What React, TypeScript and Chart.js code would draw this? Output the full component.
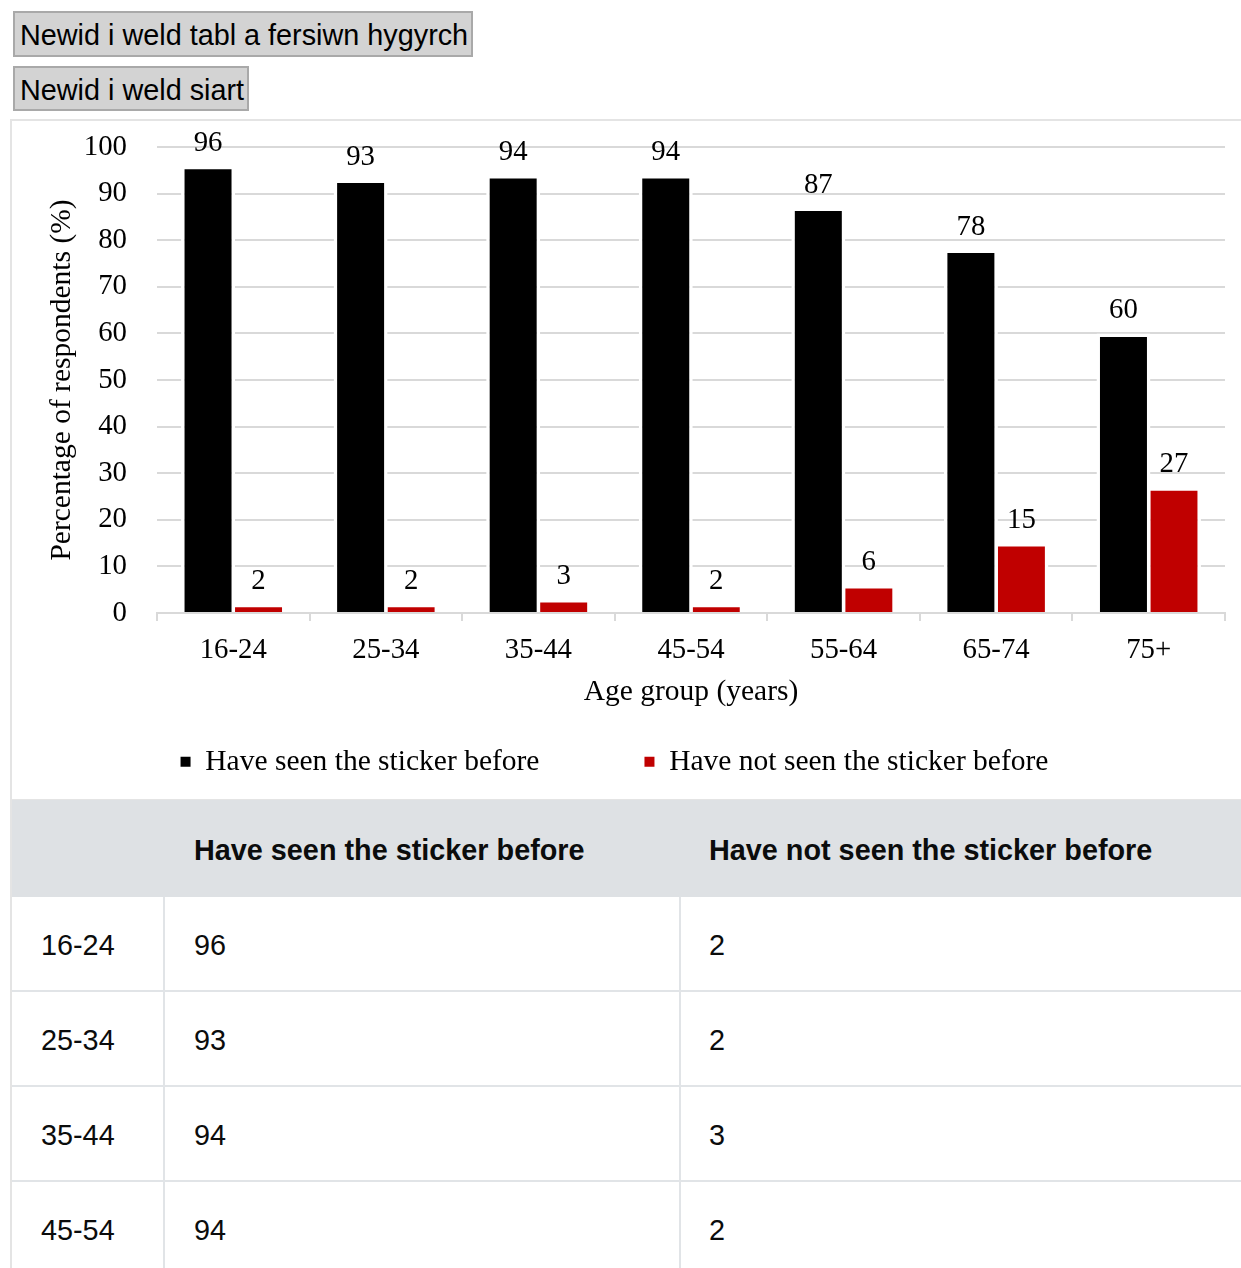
import React, { useEffect, useRef } from "react";
import { Chart, registerables } from "chart.js";

Chart.register(...registerables);

// ---------- data ----------
const categories = ["16-24", "25-34", "35-44", "45-54", "55-64", "65-74", "75+"];
const seenValues = [96, 93, 94, 94, 87, 78, 60];
const notSeenValues = [2, 2, 3, 2, 6, 15, 27];
const seriesLabels = ["Have seen the sticker before", "Have not seen the sticker before"];
const seriesColors = ["#000000", "#c00000"];
const yMin = 0;
const yMax = 100;
const yStep = 10;
const xAxisTitle = "Age group (years)";
const yAxisTitle = "Percentage of respondents (%)";
const buttonLabels = ["Newid i weld tabl a fersiwn hygyrch", "Newid i weld siart"];

const SERIF = '"Liberation Serif", "Times New Roman", Times, serif';
const SANS = '"Liberation Sans", Arial, Helvetica, sans-serif';

const valueLabelPlugin = {
  id: "valueLabels",
  afterDatasetsDraw(chart: any) {
    const { ctx } = chart;
    ctx.save();
    ctx.font = `28.8px ${SERIF}`;
    ctx.fillStyle = "#000";
    ctx.textAlign = "center";
    ctx.textBaseline = "alphabetic";
    chart.data.datasets.forEach((ds: any, di: number) => {
      const meta = chart.getDatasetMeta(di);
      meta.data.forEach((el: any, i: number) => {
        const { x, y } = el.getProps(["x", "y"], true);
        ctx.fillText(String(ds.data[i]), x, y - 15);
      });
    });
    ctx.restore();
  },
};

function BarChart() {
  const ref = useRef<HTMLCanvasElement>(null);
  useEffect(() => {
    const chart = new Chart(ref.current as HTMLCanvasElement, {
      type: "bar",
      data: {
        labels: categories,
        datasets: [
          {
            label: seriesLabels[0],
            data: seenValues,
            backgroundColor: seriesColors[0],
            borderColor: "#ffffff",
            borderWidth: 3.5,
            borderSkipped: "start",
            categoryPercentage: 0.662,
            barPercentage: 1.069,
          },
          {
            label: seriesLabels[1],
            data: notSeenValues,
            backgroundColor: seriesColors[1],
            borderColor: "#ffffff",
            borderWidth: 3.5,
            borderSkipped: "start",
            categoryPercentage: 0.662,
            barPercentage: 1.069,
          },
        ],
      },
      options: {
        animation: false,
        responsive: false,
        maintainAspectRatio: false,
        devicePixelRatio: 1,
        layout: { padding: { top: 26, right: 2, bottom: 12.5, left: 0 } },
        plugins: {
          legend: {
            position: "bottom",
            title: { display: true, text: "", font: { size: 10 }, padding: { top: -38, bottom: 0 } },
            labels: {
              boxWidth: 10,
              boxHeight: 10,
              padding: 105,
              color: "#000",
              font: { family: SERIF, size: 29.5 },
              generateLabels: (c: any) =>
                (Chart.defaults.plugins.legend.labels as any)
                  .generateLabels(c)
                  .map((it: any) => ({ ...it, lineWidth: 0, strokeStyle: it.fillStyle })),
            },
          },
          tooltip: { enabled: false },
        },
        scales: {
          x: {
            offset: true,
            grid: {
              display: true,
              drawOnChartArea: false,
              drawTicks: true,
              tickLength: 8,
              color: "#d9d9d9",
              lineWidth: 2,
              offset: true,
            },
            border: { display: true, color: "#d9d9d9", width: 2 },
            ticks: {
              color: "#000",
              font: { family: SERIF, size: 28.8 },
              padding: 12,
              maxRotation: 0,
              autoSkip: false,
            },
            title: {
              display: true,
              text: xAxisTitle,
              color: "#000",
              font: { family: SERIF, size: 29.5 },
              padding: { top: 0, bottom: -41.7 },
            },
            afterFit: (scale: any) => {
              scale.height = 55;
            },
          },
          y: {
            min: yMin,
            max: yMax,
            ticks: {
              stepSize: yStep,
              color: "#000",
              font: { family: SERIF, size: 28.8 },
              padding: 0,
            },
            grid: {
              color: "#d9d9d9",
              lineWidth: 2,
              drawTicks: true,
              tickLength: 30,
              tickColor: "rgba(0,0,0,0)",
            },
            border: { display: false },
            title: {
              display: true,
              text: yAxisTitle,
              color: "#000",
              font: { family: SERIF, size: 29.5 },
              padding: { top: 40.3, bottom: 0 },
            },
            afterFit: (scale: any) => {
              scale.width = 153;
            },
          },
        },
      } as any,
      plugins: [valueLabelPlugin],
    });
    return () => chart.destroy();
  }, []);
  return (
    <canvas
      ref={ref}
      width={1223}
      height={678}
      style={{ position: "absolute", left: 4, top: 121, width: 1223, height: 678 }}
    />
  );
}

const btnStyle = (left: number, top: number, width: number, height: number): React.CSSProperties => ({
  position: "absolute",
  left,
  top,
  width,
  height,
  boxSizing: "border-box",
  background: "#d3d3d3",
  border: "2px solid #a9a9a9",
  borderRadius: 0,
  fontFamily: SANS,
  fontSize: 28.8,
  color: "#000",
  padding: "3px 0 0 5px",
  margin: 0,
  textAlign: "left",
  lineHeight: 1,
  whiteSpace: "nowrap",
});

const cellText: React.CSSProperties = {
  display: "flex",
  alignItems: "center",
  boxSizing: "border-box",
  height: "100%",
  paddingTop: 4,
};

export default function App() {
  return (
    <div
      style={{
        position: "absolute",
        left: 0,
        top: 0,
        width: 1241,
        height: 1268,
        overflow: "hidden",
        background: "#fff",
        fontFamily: SANS,
      }}
    >
      <button style={btnStyle(13, 11, 460, 46)}>{buttonLabels[0]}</button>
      <button style={btnStyle(13, 66, 236, 45)}>{buttonLabels[1]}</button>

      <div
        style={{
          position: "absolute",
          left: 10,
          top: 119,
          width: 1300,
          height: 1300,
          boxSizing: "border-box",
          borderLeft: "2px solid #e4e4e4",
          borderTop: "2px solid #e4e4e4",
        }}
      />

      <BarChart />

      {/* table header */}
      <div
        style={{
          position: "absolute",
          left: 12,
          top: 799,
          width: 1300,
          height: 98,
          boxSizing: "border-box",
          borderTop: "1px solid #e4e4e4",
          background: "#dee1e4",
          display: "flex",
          fontWeight: "bold",
          fontSize: 28.8,
          color: "#0b0c0c",
        }}
      >
        <div style={{ ...cellText, width: 151 }} />
        <div style={{ ...cellText, width: 516, paddingLeft: 31 }}>{seriesLabels[0]}</div>
        <div style={{ ...cellText, flex: 1, paddingLeft: 30 }}>{seriesLabels[1]}</div>
      </div>

      {/* table rows */}
      {categories.map((cat, i) => (
        <div
          key={cat}
          style={{
            position: "absolute",
            left: 12,
            top: 897 + i * 95,
            width: 1300,
            height: 95,
            boxSizing: "border-box",
            borderBottom: "2px solid #e1e4e7",
            display: "flex",
            fontSize: 28.8,
            color: "#0b0c0c",
          }}
        >
          <div style={{ ...cellText, width: 151, paddingLeft: 29 }}>{cat}</div>
          <div style={{ ...cellText, width: 516, paddingLeft: 29, borderLeft: "2px solid #e1e4e7" }}>
            {seenValues[i]}
          </div>
          <div style={{ ...cellText, flex: 1, paddingLeft: 28, borderLeft: "2px solid #e1e4e7" }}>
            {notSeenValues[i]}
          </div>
        </div>
      ))}
    </div>
  );
}
